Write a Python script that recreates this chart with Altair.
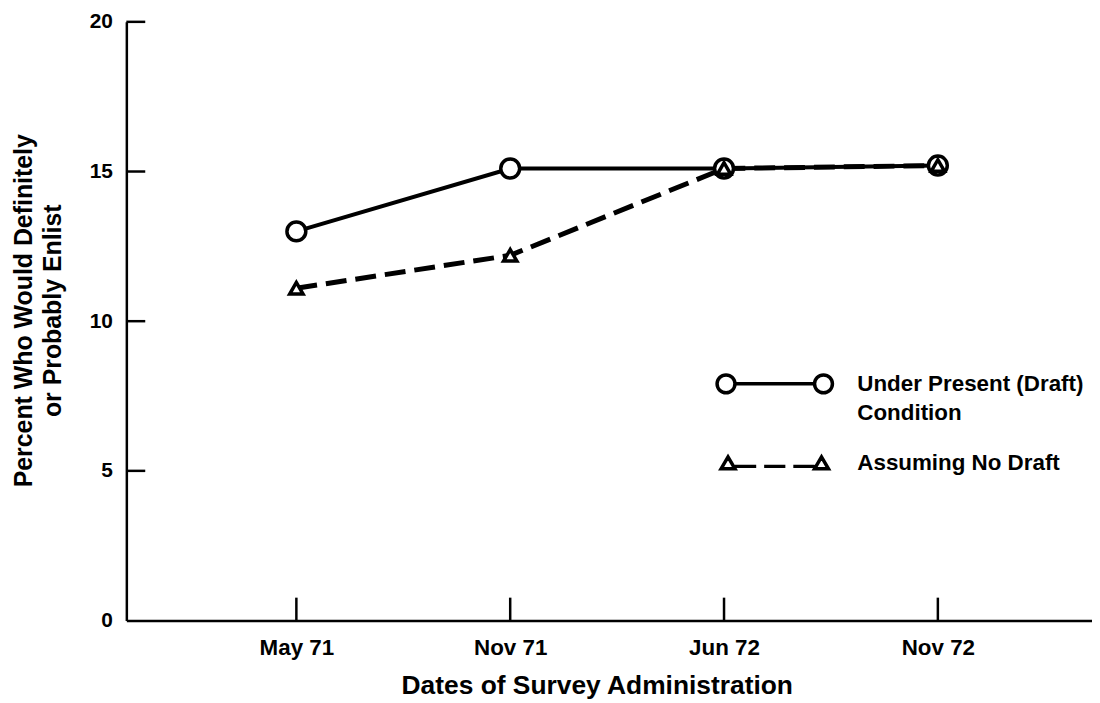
import altair as alt
import pandas as pd

# ---- data ----
dates = ["May 71", "Nov 71", "Jun 72", "Nov 72"]
draft_values = [13.0, 15.1, 15.1, 15.2]
no_draft_values = [11.1, 12.2, 15.1, 15.2]
series_names = ["Under Present (Draft) Condition", "Assuming No Draft"]
y_tick_values = [0, 5, 10, 15, 20]
y_tick_marks = [5, 10, 15, 20]

W, H = 971, 602
FONT = "Liberation Sans"

df = pd.DataFrame({
    "date": dates * 2,
    "value": draft_values + no_draft_values,
    "series": [series_names[0]] * len(dates) + [series_names[1]] * len(dates),
})
ytick_df = pd.DataFrame({"v": y_tick_marks})
xtick_df = pd.DataFrame({"date": dates})

xscale = alt.Scale(type="point", domain=dates, padding=0.758, align=0.5245)
yscale = alt.Scale(domain=[0, 20], nice=False, zero=True)

x_enc = alt.X(
    "date:N", scale=xscale, sort=dates,
    axis=alt.Axis(title="Dates of Survey Administration", labelAngle=0, ticks=False,
                  tickSize=0, labelPadding=16, labelFontSize=22.5,
                  titlePadding=14, titleFontSize=26.5, titleX=473),
)
y_enc = alt.Y(
    "value:Q", scale=yscale,
    axis=alt.Axis(values=y_tick_values, title=["Percent Who Would Definitely", "or Probably Enlist"],
                  ticks=False, tickSize=0, labelPadding=14, labelFontSize=21,
                  titlePadding=24, titleFontSize=25, titleLineHeight=29, titleY=290),
)

base = alt.Chart(df)

solid = base.transform_filter(alt.datum.series == series_names[0]).mark_line(
    color="black", strokeWidth=4
).encode(x=x_enc, y=y_enc)

dashed = base.transform_filter(alt.datum.series == series_names[1]).mark_line(
    color="black", strokeWidth=5, strokeDash=[21, 9]
).encode(x=x_enc, y=y_enc)

circles = base.transform_filter(alt.datum.series == series_names[0]).mark_point(
    shape="circle", size=360, filled=True, fill="white", stroke="black", strokeWidth=3.5, opacity=1
).encode(x=x_enc, y=y_enc)

triangles = base.transform_filter(alt.datum.series == series_names[1]).mark_point(
    shape="triangle-up", size=180, filled=True, fill="white", stroke="black", strokeWidth=3.5, opacity=1
).encode(x=x_enc, y=y_enc)

ytick_rules = alt.Chart(ytick_df).mark_rule(color="black", strokeWidth=2.5).encode(
    y=alt.Y("v:Q", scale=yscale), x=alt.value(0), x2=alt.value(19)
)
xtick_rules = alt.Chart(xtick_df).mark_rule(color="black", strokeWidth=2.5).encode(
    x=alt.X("date:N", scale=xscale, sort=dates), y=alt.value(H), y2=alt.value(H - 23)
)

# legend symbols: custom SVG paths, unit = sqrt(symbolSize)/2 px
path_circle = (
    "M -2.9 0 A 0.45 0.45 0 1 1 -2.0 0 A 0.45 0.45 0 1 1 -2.9 0 Z "
    "M -2.0 0 L 2.0 0 "
    "M 2.0 0 A 0.45 0.45 0 1 1 2.9 0 A 0.45 0.45 0 1 1 2.0 0 Z"
)
path_triangle = (
    "M -2.7 0.27 L -2.35 -0.33 L -2.0 0.27 Z "
    "M -2.0 0.15 L -0.933 0.15 M -0.533 0.15 L 0.533 0.15 M 0.933 0.15 L 2.0 0.15 "
    "M 2.0 0.27 L 2.35 -0.33 L 2.7 0.27 Z"
)

legend_layer = base.transform_filter("false").mark_point(filled=False, color="black").encode(
    x=x_enc, y=y_enc,
    shape=alt.Shape(
        "series:N",
        scale=alt.Scale(domain=series_names, range=[path_circle, path_triangle]),
        legend=alt.Legend(
            title=None, orient="none", legendX=630, legendY=342, padding=0,
            symbolSize=1600, symbolStrokeWidth=3.5, symbolStrokeColor="black",
            symbolFillColor="white", symbolOpacity=1,
            labelFont=FONT, labelFontSize=22.5, labelFontWeight="bold", labelColor="black",
            labelOffset=61, labelLimit=400, rowPadding=17,
            labelExpr="datum.label == 'Under Present (Draft) Condition' ? ['Under Present (Draft)', 'Condition'] : datum.label",
        ),
    ),
)

chart = alt.layer(
    solid, dashed, circles, triangles, ytick_rules, xtick_rules, legend_layer
).properties(
    width=W, height=H,
    autosize=alt.AutoSizeParams(type="none"),
    padding={"left": 119, "top": 12, "right": 0, "bottom": 80},
).configure(
    style={"guide-label": {"lineHeight": 29}}
).configure_view(stroke=None).configure_axis(
    domainColor="black", domainWidth=2.5, grid=False,
    labelFont=FONT, labelFontWeight="bold", labelColor="black",
    titleFont=FONT, titleFontWeight="bold", titleColor="black",
)

chart.save("out.html", embed_options={"renderer": "svg", "actions": False})
